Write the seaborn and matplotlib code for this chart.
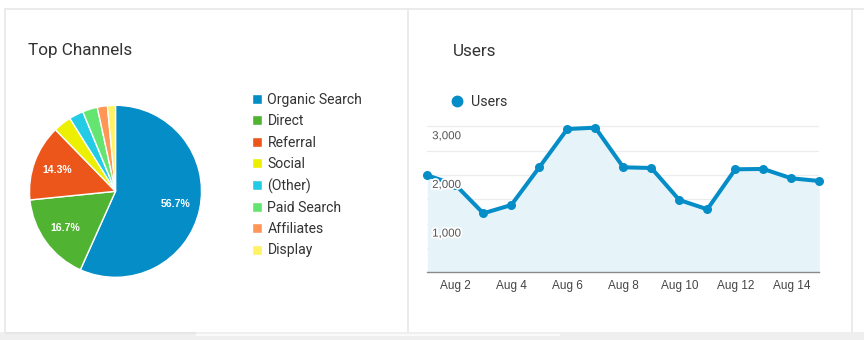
import matplotlib
matplotlib.use("Agg")
import matplotlib.pyplot as plt
import matplotlib.patheffects as pe
from matplotlib.lines import Line2D
from matplotlib.patches import Rectangle
import numpy as np
import pandas as pd
import seaborn as sns

# ---- data -------------------------------------------------------------
channels = ["Organic Search", "Direct", "Referral", "Social", "(Other)",
            "Paid Search", "Affiliates", "Display"]
channel_share = [56.7, 16.7, 14.3, 3.4, 2.7, 2.8, 1.9, 1.5]
channel_colors = ["#058DC7", "#50B432", "#ED561B", "#EDEF00", "#24CBE5",
                  "#64E572", "#FF9655", "#FFF263"]

days = ["Aug 1", "Aug 2", "Aug 3", "Aug 4", "Aug 5", "Aug 6", "Aug 7", "Aug 8",
        "Aug 9", "Aug 10", "Aug 11", "Aug 12", "Aug 13", "Aug 14", "Aug 15"]
users = [1990, 1800, 1211, 1382, 2156, 2942, 2970, 2156, 2142, 1485, 1294,
         2115, 2122, 1930, 1875]
y_labels = [1000, 2000, 3000]

# ---- figure -----------------------------------------------------------
W, H = 864, 340
sns.set_theme(style="white")
plt.rcParams["font.family"] = ["Roboto", "DejaVu Sans"]
fig = plt.figure(figsize=(W / 100, H / 100), dpi=100)
fig.patch.set_facecolor("white")


def fx(px):
    return px / W


def fy(py):
    return 1 - py / H


# card frames
border = "#e9e9e9"
for (x0, y0, x1, y1) in [(5, 9, 864, 9), (5, 9, 5, 332), (408.3, 9, 408.3, 332),
                         (852.3, 9, 852.3, 332)]:
    fig.add_artist(Line2D([fx(x0), fx(x1)], [fy(y0), fy(y1)], color=border,
                          lw=1.3, transform=fig.transFigure))
fig.add_artist(Rectangle((fx(0), fy(340)), fx(864), 8 / H, color="#efefef",
                         transform=fig.transFigure, lw=0))
fig.add_artist(Rectangle((fx(5), fy(334)), fx(191), 2 / H, color="#e6e6e6",
                         transform=fig.transFigure, lw=0))
fig.add_artist(Rectangle((fx(196), fy(336)), fx(364), 2.5 / H, color="#fafafa",
                         transform=fig.transFigure, lw=0))

# titles
title_kw = dict(fontsize=12.3, color="#333333", va="center", ha="left",
                family=["Roboto", "DejaVu Sans"])
fig.text(fx(28), fy(51), "Top Channels", **title_kw)
fig.text(fx(453), fy(51), "Users", **title_kw)

# ---- pie: top channels ----------------------------------------------
cx, cy, r = 115.5, 191.3, 86
ax_pie = fig.add_axes([fx(cx - r), fy(cy + r), 2 * r / W, 2 * r / H])
wedges, _, autotexts = ax_pie.pie(
    channel_share, colors=channel_colors, startangle=90, counterclock=False,
    autopct=lambda p: f"{p:.1f}%" if p > 10 else "", pctdistance=0.72,
    wedgeprops=dict(edgecolor="white", linewidth=1),
    textprops=dict(color="white", fontsize=7.6, fontweight="semibold",
                   family=["Liberation Sans", "DejaVu Sans"]))
ax_pie.set_xlim(-1, 1)
ax_pie.set_ylim(-1, 1)
ax_pie.set_aspect("equal")
ax_pie.axis("off")

fig.legend(wedges, channels, loc="upper left",
           bbox_to_anchor=(fx(251.5), fy(93)), bbox_transform=fig.transFigure,
           frameon=False, fontsize=10.1, handlelength=0.72, handleheight=0.72,
           handletextpad=0.42, labelspacing=0.52, borderpad=0, borderaxespad=0,
           labelcolor="#333333")

# ---- line: users ------------------------------------------------------
x0, x1 = 427.3, 819.3
base_y = 272.3
px_per_unit = 0.0487
ymax = 3300
top_y = base_y - ymax * px_per_unit
ax = fig.add_axes([fx(x0), fy(base_y), (x1 - x0) / W, (base_y - top_y) / H])
ax.set_facecolor("none")

df = pd.DataFrame({"pos": np.arange(len(days)), "day": days, "users": users})
blue = "#058DC7"
ax.fill_between(df["pos"], df["users"], 0, color="#E6F4F9", lw=0, zorder=1)
sns.lineplot(data=df, x="pos", y="users", ax=ax, color=blue, lw=2.9,
             marker="o", markersize=6.5, markeredgewidth=0, zorder=3,
             clip_on=False)

ax.set_xlim(0, len(days) - 1)
ax.set_ylim(0, ymax)
ax.set_yticks(np.arange(500, 3001, 500))
ax.yaxis.grid(True, color="#ececec", lw=0.9, zorder=0)
ax.xaxis.grid(False)
ax.tick_params(axis="y", left=False, labelleft=False)
for s in ["top", "right", "left"]:
    ax.spines[s].set_visible(False)
ax.spines["bottom"].set_color("#8a8a8a")
ax.spines["bottom"].set_linewidth(1.0)
ax.spines["bottom"].set_zorder(4)

ax.set_xticks(df["pos"][1::2])
ax.set_xticklabels(df["day"][1::2], fontsize=8.5,
                   family=["Liberation Sans", "DejaVu Sans"], color="#444444")
ax.tick_params(axis="x", length=0, pad=5.5)
ax.set_xlabel("")
ax.set_ylabel("")

# value labels sit just inside the plot, under their grid line
for v in y_labels:
    ax.annotate(f"{v:,}", xy=(0, v), xycoords=("axes fraction", "data"),
                xytext=(3.5, -7.2), textcoords="offset points", ha="left",
                va="center", fontsize=8.3, color="#555555",
                family=["Liberation Sans", "DejaVu Sans"], zorder=5,
                path_effects=[pe.withStroke(linewidth=2.5, foreground="white")])

handle = Line2D([], [], color=blue, marker="o", lw=0, markersize=7.5)
ax.legend([handle], ["Users"], loc="center left",
          bbox_to_anchor=(fx(450), fy(102)), bbox_transform=fig.transFigure,
          frameon=False, fontsize=10.3, handlelength=1.0, handletextpad=0.5,
          borderpad=0, borderaxespad=0, labelcolor="#333333")

fig.savefig("out.png", dpi=100, facecolor="white")
